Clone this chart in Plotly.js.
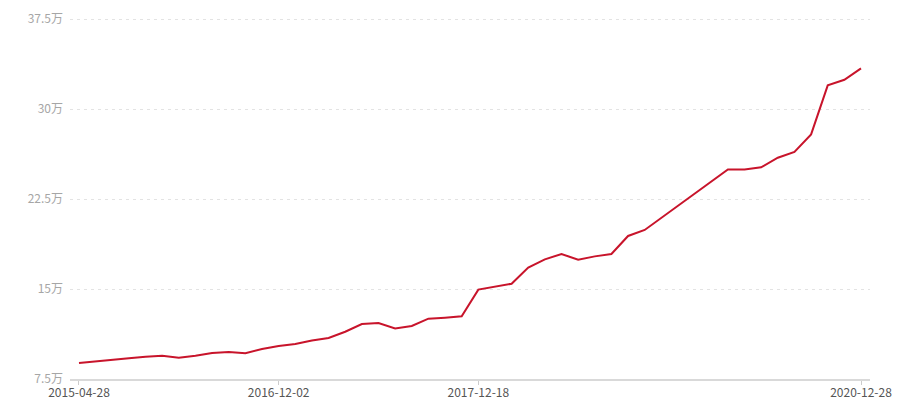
<!DOCTYPE html>
<html>
<head>
<meta charset="utf-8">
<script src="https://cdn.plot.ly/plotly-3.0.1.min.js"></script>
<style>html,body{margin:0;padding:0;background:#fff}#chart{width:900px;height:400px}</style>
</head>
<body>
<div id="chart"></div>
<script>
// Category positions (index of each observation on the category axis)
const pointIndex = [0,1,2,3,4,5,6,7,8,9,10,11,12,13,14,15,16,17,18,19,20,21,22,23,24,25,26,27,28,29,30,31,32,33,34,35,36,37,38,39,40,41,42,43,44,45,46,47];
// Values in 万 (null where no vertex is visible along the straight run)
const values = [8.83,8.94,9.08,9.22,9.36,9.44,9.28,9.44,9.67,9.75,9.64,10.0,
                10.25,10.42,10.7,10.92,11.44,12.08,12.17,11.72,11.92,12.53,12.61,12.72,
                14.95,15.17,15.44,16.78,17.47,17.92,17.44,17.72,17.92,19.42,19.92,
                null,null,null,null,
                24.97,24.97,25.14,25.94,26.42,27.89,31.97,32.44,33.39];
// Tick labels shown on the x axis
const xTickIndex = [0,12,24,47];
const xTickLabels = ['2015-04-28','2016-12-02','2017-12-18','2020-12-28'];
const yTickValues = [7.5,15,22.5,30,37.5];
const yTickLabels = ['7.5万','15万','22.5万','30万','37.5万'];

const trace = {
  x: pointIndex,
  y: values,
  type: 'scatter',
  mode: 'lines',
  connectgaps: true,
  line: {color: '#c8142b', width: 2},
  hoverinfo: 'skip'
};

const layout = {
  width: 900, height: 400,
  margin: {l: 70, r: 30, t: 17, b: 21},
  paper_bgcolor: '#fff', plot_bgcolor: '#fff',
  showlegend: false,
  font: {family: '"Noto Sans CJK SC", "Noto Sans", sans-serif', size: 12},
  xaxis: {
    range: [-0.54, 47.54],
    tickmode: 'array', tickvals: xTickIndex, ticktext: xTickLabels,
    ticks: 'outside', ticklen: 4, tickcolor: '#cccccc', tickwidth: 1,
    ticklabelstandoff: -2,
    showline: true, linecolor: '#d9d9d9', linewidth: 2,
    showgrid: false, zeroline: false,
    tickfont: {color: '#555555', size: 12}
  },
  yaxis: {
    range: [7.5, 37.67],
    tickmode: 'array', tickvals: yTickValues, ticktext: yTickLabels,
    ticks: '', ticklabelstandoff: 6,
    showline: false, zeroline: false,
    showgrid: true, gridcolor: '#e3e3e3', griddash: '3px,4px', gridwidth: 1,
    tickfont: {color: '#a6a6a6', size: 12}
  }
};

Plotly.newPlot('chart', [trace], layout, {staticPlot: true, displayModeBar: false});
</script>
</body>
</html>
